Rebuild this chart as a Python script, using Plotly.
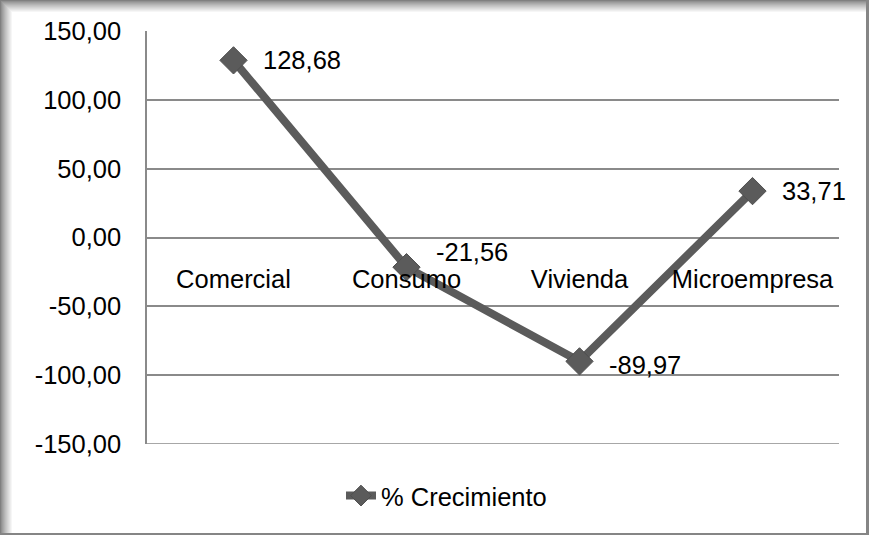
import plotly.graph_objects as go

# Data
categories = ["Comercial", "Consumo", "Vivienda", "Microempresa"]
crecimiento = [128.68, -21.56, -89.97, 33.71]
value_labels = ["128,68", "-21,56", "-89,97", "33,71"]
y_tick_vals = [150, 100, 50, 0, -50, -100, -150]
y_tick_text = ["150,00", "100,00", "50,00", "0,00", "-50,00", "-100,00", "-150,00"]

W, H = 869, 535
ML, MR, MT, MB = 147, 30, 31, 91
PW, PH = W - ML - MR, H - MT - MB

LINE_COLOR = "#5b5b5b"
GRID_COLOR = "#8a8a8a"
FONT = "Liberation Sans, Arial, sans-serif"
FS = 25.5


def px_x(px):
    return (px - ML) / PW


def px_y(py):
    return (H - MB - py) / PH


fig = go.Figure()

fig.add_trace(go.Scatter(
    x=list(range(len(categories))),
    y=crecimiento,
    mode="lines+markers",
    name="% Crecimiento",
    line=dict(color=LINE_COLOR, width=8),
    marker=dict(symbol="diamond", size=21, color=LINE_COLOR,
                line=dict(color="#4f4f4f", width=1)),
    cliponaxis=False,
))

# Value labels beside each point
label_yshift = [0, 15, -4, 0]
annotations = []
for i, (v, t) in enumerate(zip(crecimiento, value_labels)):
    annotations.append(dict(
        x=i, y=v, xref="x", yref="y", text=t, showarrow=False,
        xanchor="left", yanchor="middle", xshift=27, yshift=label_yshift[i],
        font=dict(family=FONT, size=FS, color="#000000"),
    ))

# Chart frame with soft inner shadow on the left and top edges
shapes = []
steps = 12
for k in range(steps):
    g = int(0x80 + (0xff - 0x80) * (k / steps) ** 0.8)
    col = f"rgb({g},{g},{g})"
    shapes.append(dict(type="rect", xref="paper", yref="paper",
                       x0=px_x(k), x1=px_x(k + 1), y0=px_y(H), y1=px_y(k),
                       line=dict(width=0), fillcolor=col, layer="below"))
    shapes.append(dict(type="rect", xref="paper", yref="paper",
                       x0=px_x(k), x1=px_x(W - 3), y0=px_y(k + 1), y1=px_y(k),
                       line=dict(width=0), fillcolor=col, layer="below"))
shapes.append(dict(type="rect", xref="paper", yref="paper",
                   x0=px_x(W - 3), x1=px_x(W), y0=px_y(H), y1=px_y(0),
                   line=dict(width=0), fillcolor="#858585", layer="below"))
shapes.append(dict(type="rect", xref="paper", yref="paper",
                   x0=px_x(0), x1=px_x(W), y0=px_y(H), y1=px_y(H - 2),
                   line=dict(width=0), fillcolor="#858585", layer="below"))
# bottom gridline at the lower edge of the value axis
shapes.append(dict(type="line", xref="paper", yref="y",
                   x0=0, x1=1, y0=y_tick_vals[-1], y1=y_tick_vals[-1],
                   line=dict(color=GRID_COLOR, width=1.5), layer="below"))

fig.update_layout(
    width=W, height=H,
    margin=dict(l=ML, r=MR, t=MT, b=MB, autoexpand=False),
    paper_bgcolor="#ffffff",
    plot_bgcolor="rgba(0,0,0,0)",
    font=dict(family=FONT, size=FS, color="#000000"),
    showlegend=True,
    legend=dict(orientation="h", x=px_x(341), xanchor="left",
                y=px_y(496), yanchor="middle",
                font=dict(family=FONT, size=FS, color="#000000"),
                bgcolor="rgba(0,0,0,0)"),
    xaxis=dict(
        range=[-0.5, len(categories) - 0.5],
        tickmode="array",
        tickvals=list(range(len(categories))),
        ticktext=categories,
        anchor="free", position=0.5,
        showgrid=False, zeroline=False, showline=False,
        ticks="", ticklabelstandoff=24,
        tickfont=dict(family=FONT, size=FS, color="#000000"),
    ),
    yaxis=dict(
        range=[-150, 150],
        tickmode="array",
        tickvals=y_tick_vals, ticktext=y_tick_text,
        showgrid=True, gridcolor=GRID_COLOR, gridwidth=1.5,
        zeroline=False,
        showline=True, linecolor=GRID_COLOR, linewidth=1.5,
        ticks="", ticklabelstandoff=19,
        tickfont=dict(family=FONT, size=FS, color="#000000"),
    ),
    annotations=annotations,
    shapes=shapes,
)

fig.write_html("out.html")
